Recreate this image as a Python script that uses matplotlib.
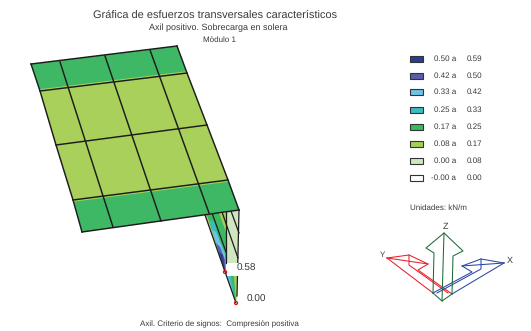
import matplotlib
matplotlib.use("Agg")
import matplotlib.pyplot as plt
from matplotlib.patches import Polygon, Rectangle, Circle

plt.rcParams['font.family'] = ['Liberation Sans', 'DejaVu Sans']
plt.rcParams['text.hinting'] = 'none'
plt.rcParams['text.hinting_factor'] = 1

# Legend
range_low = ['0.50 a', '0.42 a', '0.33 a', '0.25 a', '0.17 a', '0.08 a', '0.00 a', '-0.00 a']
range_high = ['0.59', '0.50', '0.42', '0.33', '0.25', '0.17', '0.08', '0.00']
range_colors = ['#2b3f90', '#5a5ea9', '#6cc3ea', '#3cbcc0', '#3cb863', '#a6d055', '#cfe6c0', '#ffffff']
legend_y = [59, 76, 92, 110, 127, 144, 161, 178]

# Plate mesh (screen-space projection of the 3D model)
left_x = [31, 40, 56, 73, 82]
left_y = [64, 91, 145, 200, 232]
right_x = [177, 187, 207, 228, 239]
right_y = [46, 73, 125, 180, 210]
col_top_x = [60, 105, 150]
col_top_y = [62, 56, 50]
col_bot_x = [113, 161, 209]
col_bot_y = [227, 221, 213]
band_colors = ['#3fb866', '#a8d05a', '#a8d05a', '#3fb866']

# Transverse force profile strips
profile_strips = [
    ('#a6d055', [(205, 215), (226, 213), (226, 272), (225, 272)]),
    ('#3cb863', [(207, 215), (213, 214), (226, 250), (226, 272)]),
    ('#3cbcc0', [(209, 220), (214, 222), (226, 260), (225, 272)]),
    ('#6cc3ea', [(212, 230), (216, 232), (225, 254), (225, 270)]),
    ('#5a5ea9', [(216, 243), (220, 247), (225, 260), (225, 272)]),
    ('#2b3f90', [(219, 252), (223, 255), (225, 272)]),
    ('#3cb863', [(212, 214), (219, 213), (226, 232), (226, 252)]),
    ('#cfe6c0', [(226, 212), (239, 210), (238, 264), (226, 264)]),
    ('#a6d055', [(226, 272), (237, 276), (237, 296), (236, 303)]),
    ('#3cb863', [(226, 272), (234, 276), (236, 303)]),
    ('#3cbcc0', [(226, 272), (231, 276), (235, 301)]),
    ('#6cc3ea', [(226, 272), (229, 276), (234, 297)]),
]
profile_lines = [
    [(205, 215), (236, 303)],
    [(239, 210), (237, 296)],
    [(212, 213), (226, 252)],
    [(222, 212), (238, 258)],
    [(231, 211), (239, 233)],
    [(226, 212), (226, 263)],
]
peak_labels = ['0.58', '0.00']
peak_points = [(225, 272), (236, 303)]
peak_text = [(236.5, 268.5), (247, 299.5)]

# Axis triad
triad_green = [[(433, 293), (434, 253), (426, 248), (444, 233), (463, 251), (453, 256), (452, 294)],
               [(444, 233), (442, 301)], [(433, 293), (442, 301), (452, 294)]]
triad_red = [[(387, 258), (433, 293)],
             [(387, 258), (409, 255), (428, 264), (418, 270), (452, 294)],
             [(387, 258), (428, 264)], [(409, 255), (409, 265), (448, 293)]]
triad_blue = [[(504, 263), (452, 294)],
              [(504, 263), (481, 259), (462, 266), (472, 272), (433, 293)],
              [(504, 263), (462, 266)], [(481, 259), (481, 269), (437, 293)]]

fig = plt.figure(figsize=(5.31, 3.31), dpi=100)
ax = fig.add_axes([0, 0, 1, 1])
ax.set_xlim(0, 531)
ax.set_ylim(331, 0)
ax.axis('off')
TC = '#3a3a3a'

# Profile under the plate
for col, pts in profile_strips:
    ax.add_patch(Polygon(pts, closed=True, fc=col, ec='none', zorder=2))
for pts in profile_lines:
    ax.plot(*zip(*pts), color='#1c1c1c', lw=0.9, zorder=3)
ax.add_patch(Rectangle((226.5, 263), 30, 13, fc='white', ec='none', zorder=4))
for p in peak_points:
    ax.add_patch(Circle(p, 1.6, fc='none', ec='#e01020', lw=0.8, zorder=6))
for s, (x, y) in zip(peak_labels, peak_text):
    ax.text(x, y, s, fontsize=7, color=TC, va='center', ha='left', zorder=6)

# Plate
for i, col in enumerate(band_colors):
    q = [(left_x[i], left_y[i]), (right_x[i], right_y[i]),
         (right_x[i + 1], right_y[i + 1]), (left_x[i + 1], left_y[i + 1])]
    ax.add_patch(Polygon(q, closed=True, fc=col, ec='none', zorder=5))
for i in (1, 3):
    sign = -1 if i == 1 else 1
    q = [(left_x[i], left_y[i]), (right_x[i], right_y[i]),
         (right_x[i], right_y[i] + sign * 1.8), (left_x[i], left_y[i] + sign * 1.8)]
    ax.add_patch(Polygon(q, closed=True, fc='#a8d05a', ec='none', zorder=5))
LW = 1.05
for i in range(5):
    ax.plot([left_x[i], right_x[i]], [left_y[i], right_y[i]], color='#1c1c1c', lw=LW, zorder=6)
ax.plot(left_x, left_y, color='#1c1c1c', lw=LW, zorder=6)
ax.plot(right_x, right_y, color='#1c1c1c', lw=LW, zorder=6)
for j in range(3):
    ax.plot([col_top_x[j], col_bot_x[j]], [col_top_y[j], col_bot_y[j]], color='#1c1c1c', lw=LW, zorder=6)

# Titles
ax.text(215, 15.5, 'Gráfica de esfuerzos transversales característicos', fontsize=7.7, color=TC, ha='center', va='center')
ax.text(218, 28.3, 'Axil positivo. Sobrecarga en solera', fontsize=6.3, color=TC, ha='center', va='center')
ax.text(219, 40.3, 'Módulo 1', fontsize=6, color=TC, ha='center', va='center')
ax.text(219, 324.3, 'Axil. Criterio de signos:  Compresión positiva', fontsize=5.85, color=TC, ha='center', va='center')

# Legend
for lo, hi, col, y in zip(range_low, range_high, range_colors, legend_y):
    ax.add_patch(Rectangle((410, y - 3), 13, 6, fc=col, ec='#333333', lw=0.8))
    ax.text(456, y - 0.5, lo, fontsize=5.8, color=TC, ha='right', va='center')
    ax.text(482, y - 0.5, hi, fontsize=5.8, color=TC, ha='right', va='center')
ax.text(410.5, 207.5, 'Unidades: kN/m', fontsize=5.8, color=TC, ha='left', va='center')

# Triad
for lines, col in [(triad_red, '#e8202c'), (triad_blue, '#2a45a8'), (triad_green, '#1d6b38')]:
    for pts in lines:
        ax.plot(*zip(*pts), color=col, lw=0.75, zorder=3)
ax.text(445.5, 227, 'Z', fontsize=6.5, color=TC, ha='center', va='center')
ax.text(510, 261, 'X', fontsize=6.5, color=TC, ha='center', va='center')
ax.text(382.5, 255, 'Y', fontsize=5.5, color=TC, ha='center', va='center')

fig.savefig('out.png', dpi=100)
